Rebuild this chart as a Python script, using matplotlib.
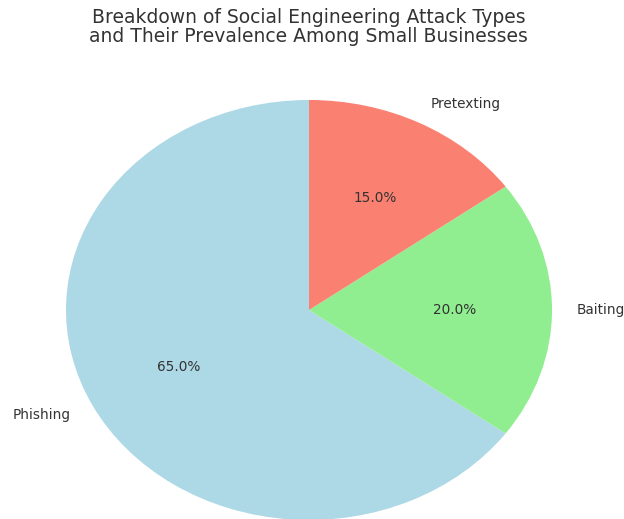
import matplotlib.pyplot as plt

labels = ['Phishing', 'Baiting', 'Pretexting']
shares = [65, 20, 15]
colors = ['lightblue', 'lightgreen', 'salmon']

fig = plt.figure(figsize=(6.24, 5.19), dpi=100)
ax = fig.add_axes([0.0084, -0.1031, 0.9736, 1.0116])

ax.pie(shares, labels=labels, colors=colors, autopct='%1.1f%%', startangle=90,
       textprops={'color': '#333333', 'fontsize': 9.8})
ax.set_aspect('auto')
ax.set_xlim(-1.25, 1.25)
ax.set_ylim(-1.25, 1.25)

fig.text(0.495, 0.984, 'Breakdown of Social Engineering Attack Types\nand Their Prevalence Among Small Businesses',
         ha='center', va='top', fontsize=13.5, color='#333333', linespacing=0.98)

fig.savefig('out.png', dpi=100)
